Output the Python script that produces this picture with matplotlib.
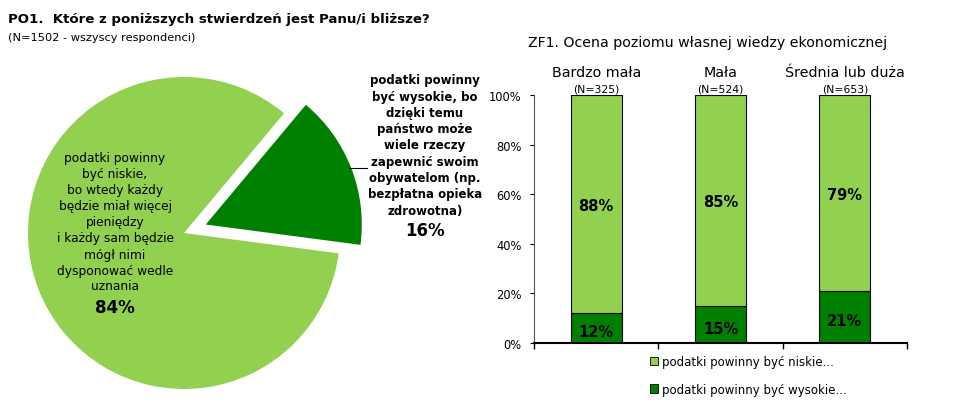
import numpy as np
import matplotlib
matplotlib.use("Agg")
import matplotlib.pyplot as plt

W, H = 955, 402

# dane - wykres kołowy
pie_labels = ["podatki powinny\nbyć wysokie, bo\ndzięki temu\npaństwo może\nwiele rzeczy\nzapewnić swoim\nobywatelom (np.\nbezpłatna opieka\nzdrowotna)",
              "podatki powinny\nbyć niskie,\nbo wtedy każdy\nbędzie miał więcej\npieniędzy\ni każdy sam będzie\nmógł nimi\ndysponować wedle\nuznania"]
pie_values = [16, 84]

# dane - wykres słupkowy
categories = ["Bardzo mała", "Mała", "Średnia lub duża"]
cat_n = ["(N=325)", "(N=524)", "(N=653)"]
low_taxes = [88, 85, 79]
high_taxes = [12, 15, 21]
series_names = ["podatki powinny być niskie...", "podatki powinny być wysokie..."]

light = "#92D050"
dark = "#008000"

plt.rcParams['font.family'] = ['DejaVu Sans']

def px(x, y):
    return x / W, 1 - y / H

fig = plt.figure(figsize=(W / 100, H / 100), dpi=100)

# tytuły
fig.text(*px(8, 20), "PO1.  Które z poniższych stwierdzeń jest Panu/i bliższe?",
         fontsize=9.6, fontweight="bold", va="center", ha="left")
fig.text(*px(8, 38), "(N=1502 - wszyscy respondenci)", fontsize=8.2, va="center", ha="left")

# wykres kołowy - osie w pikselach
ax_pie = fig.add_axes([0, 0, 480 / W, 1])
cx, cy, r = 184, H - 234, 156
expl = 0.15 * r
wedges, _ = ax_pie.pie(pie_values, colors=[dark, light], startangle=-7.5,
                       explode=[expl, 0], radius=r, center=(cx, cy),
                       wedgeprops=dict(linewidth=0), frame=True)
ax_pie.set_xlim(0, 480)
ax_pie.set_ylim(0, H)
ax_pie.axis("off")

# linia odniesienia dla małego wycinka
w = wedges[0]
mid = np.deg2rad((w.theta1 + w.theta2) / 2)
ex = cx + expl * np.cos(mid)
ey = cy + expl * np.sin(mid)
sx, sy = ex + r * np.cos(mid), ey + r * np.sin(mid)
ax_pie.plot([sx - 2, sx + 16], [sy, sy], color="black", lw=0.8)

ax_pie.text(425, H - 146, pie_labels[0], ha="center", va="center", fontsize=8.5,
            fontweight="bold", linespacing=1.33)
ax_pie.text(425, H - 231, f"{pie_values[0]}%", ha="center", va="center", fontsize=12, fontweight="bold")
ax_pie.text(115, H - 223, pie_labels[1], ha="center", va="center", fontsize=8.8,
            linespacing=1.3)
ax_pie.text(115, H - 308, f"{pie_values[1]}%", ha="center", va="center", fontsize=12, fontweight="bold")

# wykres słupkowy
ax = fig.add_axes([534 / W, 1 - 344 / H, (907 - 534) / W, (344 - 96) / H])
x = np.arange(len(categories)) + 0.5
ax.bar(x, high_taxes, width=0.41, color=dark, edgecolor="black", linewidth=0.8)
ax.bar(x, low_taxes, bottom=high_taxes, width=0.41, color=light, edgecolor="black", linewidth=0.8)
for xi, lo, hi in zip(x, low_taxes, high_taxes):
    ax.text(xi, hi / 2 - 1.5, f"{hi}%", ha="center", va="center", fontsize=10.5, fontweight="bold")
    ax.text(xi, hi + lo / 2 - 0.5, f"{lo}%", ha="center", va="center", fontsize=10.5, fontweight="bold")
for xi, c, n in zip(x, categories, cat_n):
    ax.text(xi, 1.0 + 23 / 248, c, transform=ax.get_xaxis_transform(), ha="center",
            va="center", fontsize=10.3)
    ax.text(xi, 1.0 + 7 / 248, n, transform=ax.get_xaxis_transform(), ha="center",
            va="center", fontsize=7.8)
ax.set_xlim(0, 3)
ax.set_ylim(0, 100)
ax.set_xticks([0, 1, 2, 3])
ax.set_xticklabels([])
ax.set_yticks(range(0, 101, 20))
ax.set_yticklabels([f"{v}%" for v in range(0, 101, 20)], fontsize=8.3)
ax.tick_params(axis="x", direction="out", length=4, width=1)
ax.tick_params(axis="y", direction="out", length=3, width=0.8, pad=6)
ax.spines["top"].set_visible(False)
ax.spines["right"].set_visible(False)
ax.spines["left"].set_color("#555555")
ax.spines["bottom"].set_linewidth(1.5)

fig.text(*px(708, 43), "ZF1. Ocena poziomu własnej wiedzy ekonomicznej", fontsize=10.2,
         ha="center", va="center")

handles = [plt.Rectangle((0, 0), 1, 1, facecolor=light, edgecolor="black", lw=0.6),
           plt.Rectangle((0, 0), 1, 1, facecolor=dark, edgecolor="black", lw=0.6)]
fig.legend(handles, series_names, loc="upper left", bbox_to_anchor=px(650, 356),
           frameon=False, fontsize=8.5, handlelength=0.7, handleheight=0.7,
           handletextpad=0.35, labelspacing=1.25, borderaxespad=0, borderpad=0)

fig.savefig("out.png", dpi=100)
